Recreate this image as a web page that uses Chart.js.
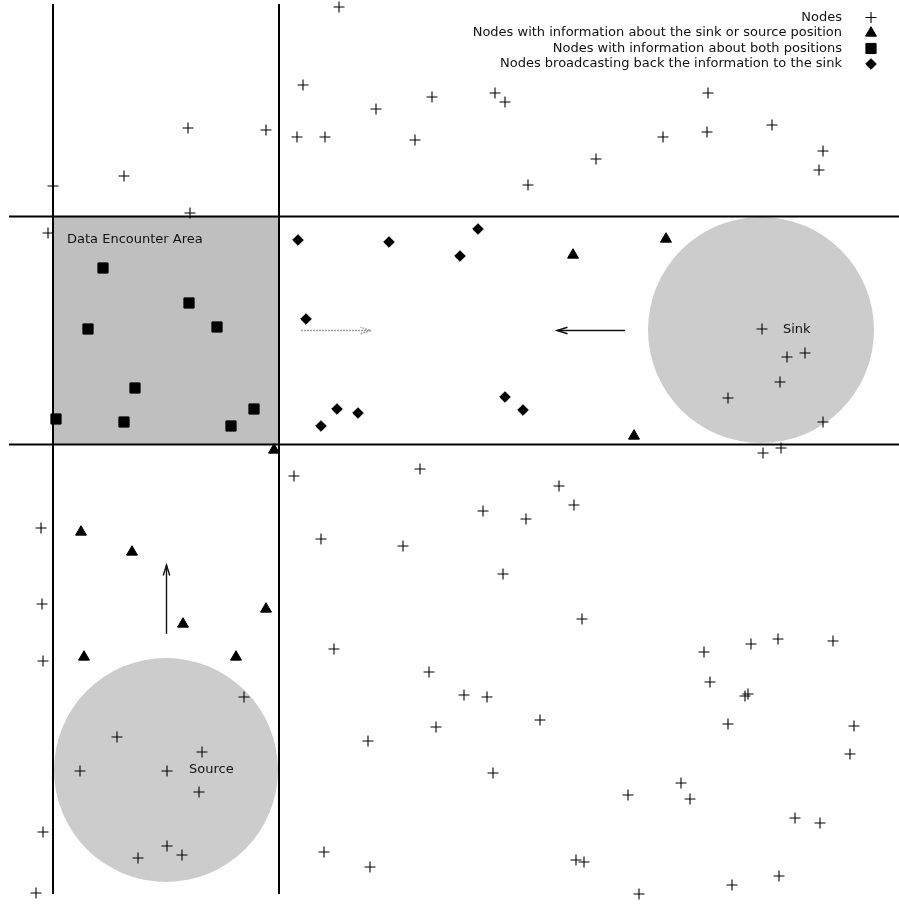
<!DOCTYPE html>
<html><head><meta charset="utf-8">
<script src="https://cdn.jsdelivr.net/npm/chart.js@4.4.1/dist/chart.umd.min.js"></script>
<style>html,body{margin:0;padding:0;background:#fff;}#wrap{width:899px;height:905px;}</style>
</head><body><div id="wrap"><canvas id="c" width="899" height="905"></canvas></div>
<script>
// ---- data (diagram coordinates) ----
const nodes = [
  [339,7],[303,85],[376,109],[432,97],[495,93],[505,102],[708,93],[188,128],[266,130],[297,137],
  [325,137],[415,140],[663,137],[707,132],[772,125],[823,151],[819,170],[596,159],[528,185],[124,176],
  [53,186],[190,213],[48,233],
  [762,329],[787,357],[805,353],[780,382],[728,398],[823,422],[763,453],[781,448],
  [294,476],[41,528],[42,604],[43,661],[244,697],[117,737],[202,752],[80,771],[167,771],[199,792],
  [43,832],[167,846],[182,855],[138,858],[36,893],
  [420,469],[559,486],[574,505],[483,511],[526,519],[321,539],[403,546],[503,574],[582,619],[334,649],
  [429,672],[464,695],[487,697],[540,720],[436,727],[368,741],[493,773],[324,852],[370,867],[576,860],[584,862],
  [704,652],[751,644],[778,639],[833,641],[710,682],[745,696],[748,694],[728,724],[854,726],[850,754],
  [681,783],[628,795],[690,799],[795,818],[820,823],[779,876],[732,885],[639,894]
];
const oneInfo = [[274,450],[81,532],[132,552],[183,624],[266,609],[84,657],[236,657],[573,255],[634,436],[666,239]];
const bothInfo = [[103,268],[189,303],[88,329],[217,327],[135,388],[56,419],[124,422],[231,426],[254,409]];
const broadcasting = [[298,240],[389,242],[478,229],[460,256],[306,319],[337,409],[358,413],[321,426],[505,397],[523,410]];
const seriesLabels = ['Nodes','Nodes with information about the sink or source position','Nodes with information about both positions','Nodes broadcasting back the information to the sink'];
const gridLines = [ [[53,4],[53,894]], [[279,4],[279,894]], [[9,216.5],[899,216.5]], [[9,444.5],[899,444.5]] ];
const encounterArea = [53,216.5,279,444.5];
const zones = [ {cx:761,cy:330,r:113,label:'Sink',lx:783,ly:330}, {cx:166,cy:770,r:112,label:'Source',lx:189,ly:770} ];
const areaLabel = {text:'Data Encounter Area', x:67, y:240};
const arrows = [
  {from:[625,330.5], to:[557,330.5], color:'#111', dash:[]},
  {from:[301,330.5], to:[371,330.5], color:'#a0a0a0', dash:[2,1]},
  {from:[166.5,634], to:[166.5,565], color:'#111', dash:[]}
];

const pts = a => a.map(p => ({x:p[0], y:p[1]}));
const FONT = '13px "DejaVu Sans", sans-serif';

const styles = [
  {pointStyle:'cross', pointRadius:5.5, borderColor:'#000', backgroundColor:'#000', borderWidth:1.1},
  {pointStyle:'triangle', pointRadius:6.3, borderColor:'#000', backgroundColor:'#000', borderWidth:1},
  {pointStyle:'rect', pointRadius:7.2, borderColor:'#000', backgroundColor:'#000', borderWidth:1},
  {pointStyle:'rectRot', pointRadius:5.3, borderColor:'#000', backgroundColor:'#000', borderWidth:1}
];
const series = [nodes, oneInfo, bothInfo, broadcasting];

const datasets = series.map((s,i) => Object.assign({label:seriesLabels[i], data:pts(s), showLine:false, clip:false}, styles[i]));
gridLines.forEach(l => datasets.push({type:'line', data:pts(l), borderColor:'#000', borderWidth:2, pointRadius:0, showLine:true, fill:false, clip:false}));

const decor = {
  id:'decor',
  beforeDatasetsDraw(chart){
    const {ctx, scales:{x,y}} = chart;
    ctx.save();
    const px0 = x.getPixelForValue(encounterArea[0]), py0 = y.getPixelForValue(encounterArea[1]);
    const px1 = x.getPixelForValue(encounterArea[2]), py1 = y.getPixelForValue(encounterArea[3]);
    ctx.fillStyle = '#bfbfbf';
    ctx.fillRect(px0, py0, px1-px0, py1-py0);
    zones.forEach(z => {
      const cx = x.getPixelForValue(z.cx), cy = y.getPixelForValue(z.cy);
      const r = Math.abs(x.getPixelForValue(z.cx+z.r) - cx);
      ctx.beginPath(); ctx.arc(cx, cy, r, 0, Math.PI*2);
      ctx.fillStyle = '#cccccc'; ctx.fill();
    });
    arrows.forEach(a => {
      const x0 = x.getPixelForValue(a.from[0]), y0 = y.getPixelForValue(a.from[1]);
      const x1 = x.getPixelForValue(a.to[0]), y1 = y.getPixelForValue(a.to[1]);
      ctx.strokeStyle = a.color; ctx.lineWidth = 1.4; ctx.setLineDash(a.dash);
      ctx.beginPath(); ctx.moveTo(x0,y0); ctx.lineTo(x1,y1); ctx.stroke();
      const ang = Math.atan2(y1-y0, x1-x0), L = 11, w = 0.3;
      ctx.beginPath();
      ctx.moveTo(x1 - L*Math.cos(ang-w), y1 - L*Math.sin(ang-w));
      ctx.lineTo(x1, y1);
      ctx.lineTo(x1 - L*Math.cos(ang+w), y1 - L*Math.sin(ang+w));
      ctx.stroke();
    });
    ctx.setLineDash([]);
    ctx.fillStyle = '#111'; ctx.font = FONT; ctx.textBaseline = 'middle'; ctx.textAlign = 'left';
    ctx.fillText(areaLabel.text, x.getPixelForValue(areaLabel.x), y.getPixelForValue(areaLabel.y));
    zones.forEach(z => ctx.fillText(z.label, x.getPixelForValue(z.lx), y.getPixelForValue(z.ly)));
    ctx.restore();
  },
  afterDraw(chart){
    const ctx = chart.ctx;
    ctx.save();
    ctx.font = FONT; ctx.textAlign = 'right'; ctx.textBaseline = 'middle'; ctx.fillStyle = '#111';
    const rows = [17.5, 33, 48.5, 64];
    seriesLabels.forEach((lab,i) => {
      ctx.fillText(lab, 842, rows[i]);
      const st = styles[i];
      ctx.fillStyle = st.backgroundColor; ctx.strokeStyle = st.borderColor; ctx.lineWidth = st.borderWidth;
      Chart.helpers.drawPoint(ctx, {pointStyle: st.pointStyle, radius: st.pointRadius, borderWidth: st.borderWidth, rotation:0}, 871, rows[i]);
      ctx.fillStyle = '#111';
    });
    ctx.restore();
  }
};

new Chart(document.getElementById('c'), {
  type:'scatter',
  data:{datasets},
  options:{
    responsive:false, animation:false, events:[],
    layout:{padding:0, autoPadding:false},
    plugins:{legend:{display:false}, tooltip:{enabled:false}},
    scales:{
      x:{type:'linear', display:false, min:0, max:899},
      y:{type:'linear', display:false, min:0, max:905, reverse:true}
    }
  },
  plugins:[decor]
});
</script></body></html>
